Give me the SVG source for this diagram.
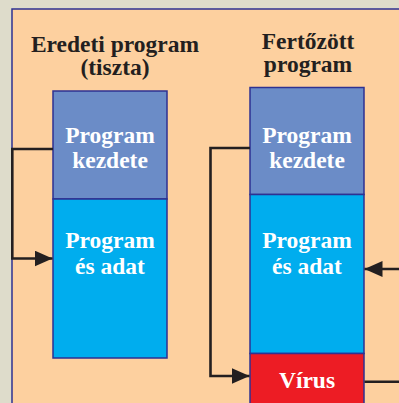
<svg xmlns="http://www.w3.org/2000/svg" width="399" height="403" viewBox="0 0 399 403">
  <style>
    .title { font-family: "Liberation Serif", "Times New Roman", serif; font-weight: bold; font-size: 23.5px; fill: #231f20; text-anchor: middle; }
    .label { font-family: "Liberation Serif", "Times New Roman", serif; font-weight: bold; font-size: 23.5px; fill: #ffffff; text-anchor: middle; }
    .box { stroke: #2e3192; stroke-width: 1.5; }
    .start { fill: #6b8cc7; }
    .data { fill: #00adee; }
    .virus { fill: #ed1c24; }
    .conn { fill: none; stroke: #231f20; stroke-width: 2.6; }
  </style>
  <defs>
    <marker id="arrow" markerUnits="userSpaceOnUse" markerWidth="20" markerHeight="18" refX="18" refY="8" orient="auto">
      <polygon points="0,0 18,8 0,16" fill="#231f20"/>
    </marker>
  </defs>
  <rect x="0" y="0" width="399" height="403" fill="#dedccb"/>
  <rect x="12" y="9" width="400" height="410" fill="#fdd09f" stroke="#2e3192" stroke-width="1.5"/>

  <g id="title-original">
    <text class="title" x="115" y="52">Eredeti program</text>
    <text class="title" x="115" y="75">(tiszta)</text>
  </g>
  <g id="title-infected">
    <text class="title" x="308" y="49">Fertőzött</text>
    <text class="title" x="308" y="72">program</text>
  </g>

  <g id="orig-start">
    <rect class="box start" x="53" y="91" width="114" height="108"/>
    <text class="label" x="110" y="143">Program</text>
    <text class="label" x="110" y="168">kezdete</text>
  </g>
  <g id="orig-data">
    <rect class="box data" x="53" y="199" width="114" height="159"/>
    <text class="label" x="110" y="248">Program</text>
    <text class="label" x="110" y="274">és adat</text>
  </g>

  <g id="inf-start">
    <rect class="box start" x="250" y="87.5" width="114" height="107"/>
    <text class="label" x="307" y="143">Program</text>
    <text class="label" x="307" y="168">kezdete</text>
  </g>
  <g id="inf-data">
    <rect class="box data" x="250" y="194.5" width="114" height="159"/>
    <text class="label" x="307" y="248">Program</text>
    <text class="label" x="307" y="274">és adat</text>
  </g>
  <g id="inf-virus">
    <rect class="box virus" x="250" y="353.5" width="114" height="60"/>
    <text class="label" x="307" y="388">Vírus</text>
  </g>

  <g id="connectors">
    <path class="conn" d="M53,149 H12.3 V258.5 H52.5" marker-end="url(#arrow)"/>
    <path class="conn" d="M250,148 H210.5 V376 H249.5" marker-end="url(#arrow)"/>
    <path class="conn" d="M399,269 H364.5" marker-end="url(#arrow)"/>
    <path class="conn" d="M364.5,381.7 H399"/>
  </g>
</svg>
